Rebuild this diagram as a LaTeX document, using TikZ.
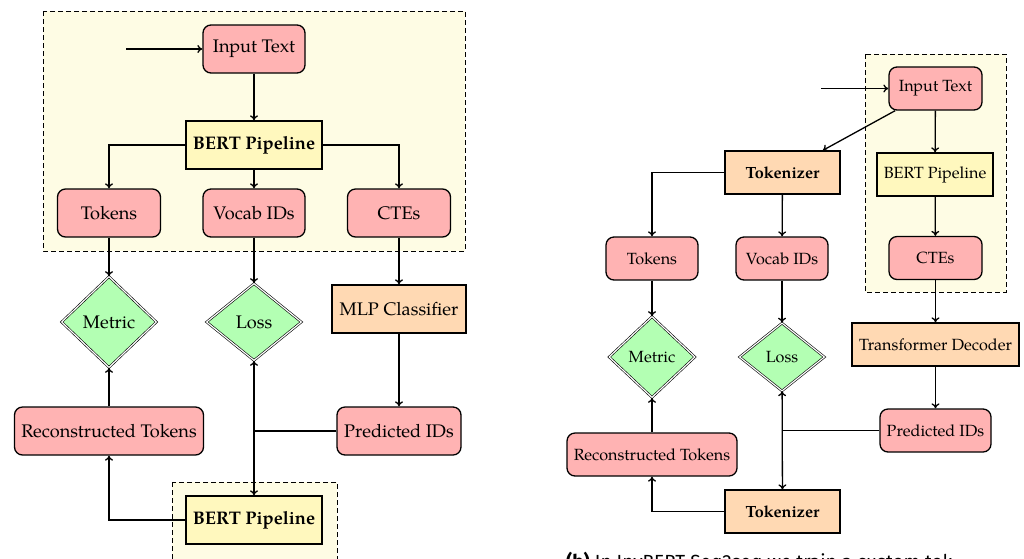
\documentclass[tikz,border=0pt]{standalone}
\usepackage{fontspec}
\setmainfont{TeX Gyre Pagella}
\newfontfamily\capfont{Fira Sans}
\usetikzlibrary{shapes.geometric,arrows.meta}
\definecolor{pinkfill}{HTML}{FFB3B3}
\definecolor{yelfill}{HTML}{FFF8BE}
\definecolor{orfill}{HTML}{FFD9B3}
\definecolor{grfill}{HTML}{B3FFB3}
\definecolor{clusterfill}{HTML}{FEFCE4}
\tikzset{
  pinkbox/.style={draw, line width=1.3pt, rounded corners=8pt, fill=pinkfill, inner sep=0pt, minimum height=#1},
  yelbox/.style={draw, line width=1.3pt, fill=yelfill, inner sep=0pt, minimum height=#1},
  orbox/.style={draw, line width=1.3pt, fill=orfill, inner sep=0pt, minimum height=#1},
  diam/.style={diamond, draw, double, double distance=1.2pt, line width=0.6pt, fill=grfill, inner sep=0pt},
  cluster/.style={draw, dashed, line width=0.8pt, dash pattern=on 5pt off 3pt, fill=clusterfill},
  arr/.style={line width=1.3pt, -{To[length=5pt,width=8pt]}},
  biarr/.style={line width=1.3pt, {To[length=5pt,width=8pt]}-{To[length=5pt,width=8pt]}},
  ln/.style={line width=1.3pt},
  lfont/.style={font=\fontsize{18.2}{21}\selectfont},
  rfont/.style={font=\fontsize{16.2}{19}\selectfont},
}
\begin{document}
\begin{tikzpicture}[x=1pt,y=-1pt]
\useasboundingbox (0,0) rectangle (1024,558);
% ===== left diagram =====
\draw[cluster] (43,11) rectangle (465,251);
\draw[cluster] (172,482) rectangle (337,575);
\begin{scope}[lfont]
\node[pinkbox=48, minimum width=102] (itL) at (254,49) {Input Text};
\node[yelbox=48, minimum width=136] (bertL) at (254,145) {\textbf{BERT Pipeline}};
\node[pinkbox=48, minimum width=103] (tokL) at (109,213) {Tokens};
\node[pinkbox=48, minimum width=102] (vocL) at (254,213) {Vocab IDs};
\node[pinkbox=48, minimum width=103] (cteL) at (399,213) {CTEs};
\node[diam, minimum width=95, minimum height=91] (metL) at (109,322) {Metric};
\node[diam, minimum width=95, minimum height=77] (lossL) at (254,322) {Loss};
\node[orbox=48, minimum width=134] (mlpL) at (399,309) {MLP Classifier};
\node[pinkbox=48, minimum width=189] (recL) at (109,431) {Reconstructed Tokens};
\node[pinkbox=48, minimum width=124] (predL) at (399,431) {Predicted IDs};
\node[yelbox=48, minimum width=136] (bert2L) at (254,520) {\textbf{BERT Pipeline}};
\end{scope}
\coordinate (inL) at (126,49);
\draw[arr] (inL) -- (itL);
\draw[arr] (itL) -- (bertL);
\draw[arr] (bertL.west) -| (tokL);
\draw[arr] (bertL) -- (vocL);
\draw[arr] (bertL.east) -| (cteL);
\draw[arr] (tokL) -- (metL);
\draw[arr] (vocL) -- (lossL);
\draw[arr] (cteL) -- (mlpL);
\draw[arr] (mlpL) -- (predL);
\draw[arr] (recL) -- (metL);
\draw[ln] (predL.west) -- (predL.west -| lossL);
\draw[biarr] (lossL) -- (bert2L);
\draw[arr] (bert2L.west) -| (recL);
% ===== right diagram =====
\draw[cluster] (865,54) rectangle (1006,292);
\begin{scope}[rfont]
\node[pinkbox=43, minimum width=93] (itR) at (935.5,88.5) {Input Text};
\node[yelbox=43, minimum width=116] (bertR) at (935,174.5) {BERT Pipeline};
\node[pinkbox=43, minimum width=93] (cteR) at (935.5,258) {CTEs};
\node[orbox=43, minimum width=115] (tokzR) at (782.5,172.5) {\textbf{Tokenizer}};
\node[pinkbox=43, minimum width=92] (tokR) at (652,258.5) {Tokens};
\node[pinkbox=43, minimum width=92] (vocR) at (782,258.5) {Vocab IDs};
\node[diam, minimum width=86, minimum height=81] (metR) at (652,357) {Metric};
\node[diam, minimum width=85, minimum height=68] (lossR) at (782,357) {Loss};
\node[orbox=43, minimum width=167] (tdR) at (935.5,344.5) {Transformer Decoder};
\node[pinkbox=43, minimum width=111] (predR) at (935.5,430.5) {Predicted IDs};
\node[pinkbox=43, minimum width=170] (recR) at (652,454.5) {Reconstructed Tokens};
\node[orbox=43, minimum width=115] (tokz2R) at (782.5,511.5) {\textbf{Tokenizer}};
\end{scope}
\coordinate (inR) at (821,88.5);
\draw[arr] (inR) -- (itR);
\draw[arr] (itR) -- (tokzR);
\draw[arr] (itR) -- (bertR);
\draw[arr] (bertR) -- (cteR);
\draw[arr] (tokzR.west) -| (tokR);
\draw[arr] (tokzR) -- (vocR);
\draw[arr] (tokR) -- (metR);
\draw[arr] (vocR) -- (lossR);
\draw[arr] (cteR) -- (tdR);
\draw[arr] (tdR) -- (predR);
\draw[arr] (recR) -- (metR);
\draw[ln] (predR.west) -- (predR.west -| lossR);
\draw[biarr] (lossR) -- (tokz2R);
\draw[arr] (tokz2R.west) -| (recR);
% caption (cut off by the page edge, as in the reference)
\node[anchor=base west, inner sep=0pt, font=\capfont\fontsize{19}{22}\selectfont] (capR) at (566,568) {\textbf{(b)} In InvBERT Seq2seq we train a custom tok};
\end{tikzpicture}
\end{document}
